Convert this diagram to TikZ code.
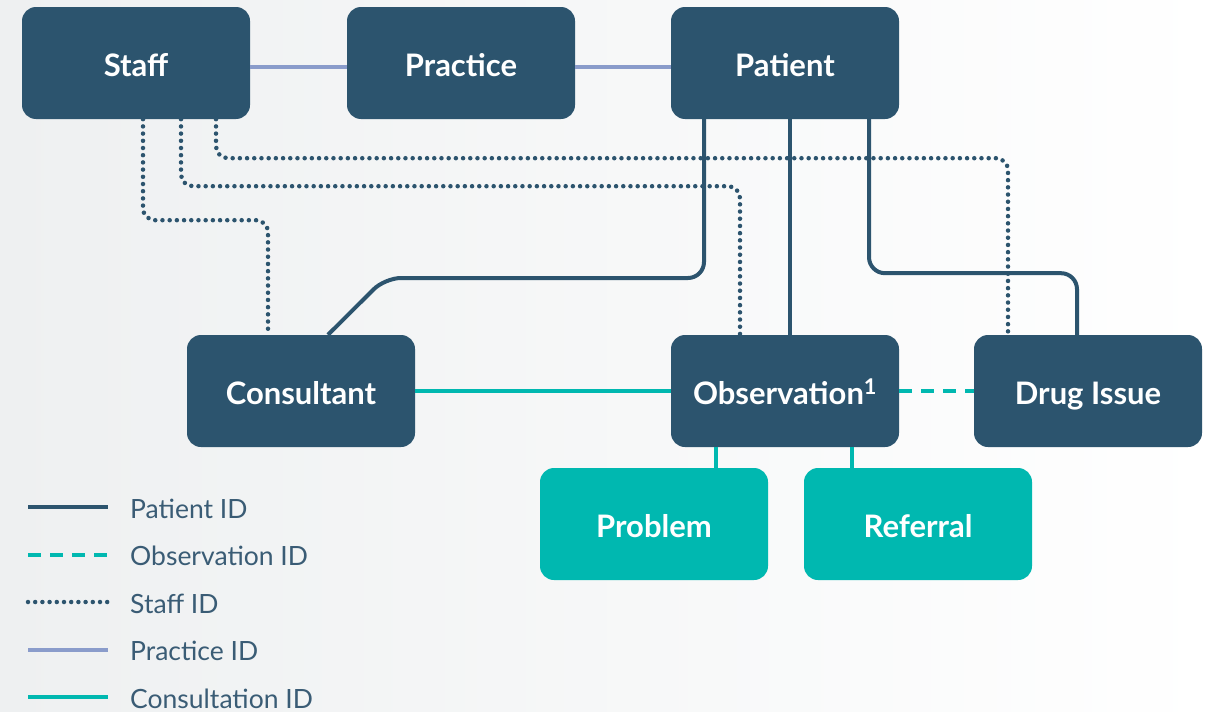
\documentclass[tikz,border=0pt]{standalone}
\usepackage{fontspec}
\setmainfont{Lato}
\usepackage{tikz}
\usetikzlibrary{calc}
\definecolor{navy}{HTML}{2C546E}
\definecolor{teal}{HTML}{00B8B0}
\definecolor{lavender}{HTML}{8A9CCB}
\definecolor{legendtxt}{HTML}{3A5C75}
\definecolor{bggray}{HTML}{EEF0F1}
\begin{document}
\begin{tikzpicture}[x=1pt,y=-1pt,
    box/.style={rectangle,rounded corners=14pt,fill=navy,text=white,minimum width=228pt,minimum height=112pt,inner sep=0pt,text height=26pt,text depth=0pt,font=\bfseries\fontsize{31}{34}\selectfont},
    subbox/.style={box,fill=teal},
    patientid/.style={draw=navy,line width=4pt,rounded corners=16pt},
    obsid/.style={draw=teal,line width=4pt,dash pattern=on 13pt off 9pt},
    staffid/.style={draw=navy,line width=4.5pt,line cap=round,dash pattern=on 0pt off 7.2pt,rounded corners=12pt},
    practiceid/.style={draw=lavender,line width=4pt},
    consultid/.style={draw=teal,line width=4pt},
    legendtext/.style={anchor=west,text=legendtxt,inner sep=0pt,font=\fontsize{26.5}{30}\selectfont}]
  \shade[left color=bggray,right color=white] (0,0) rectangle (1213,712);
  \useasboundingbox (0,0) rectangle (1213,712);
  % tables
  \node[box](staff)at(136,63){Staff};
  \node[box](practice)at(461,63){Practice};
  \node[box](patient)at(785,63){Patient};
  \node[box](consultant)at(301,391){Consultant};
  \node[box](observation)at(785,391){Observation\textsuperscript{1}};
  \node[box](drug)at(1088,391){Drug Issue};
  \node[subbox](problem)at(654,524){Problem};
  \node[subbox](referral)at(918,524){Referral};
  % keys
  \draw[practiceid] ([yshift=-4pt]staff.east)--([yshift=-4pt]practice.west);
  \draw[practiceid] ([yshift=-4pt]practice.east)--([yshift=-4pt]patient.west);
  \draw[staffid] ([xshift=7pt]staff.south)--++(0,101)-|([xshift=-33pt]consultant.north);
  \draw[staffid] ([xshift=45pt]staff.south)--++(0,67)-|([xshift=-45pt]observation.north);
  \draw[staffid] ([xshift=80pt]staff.south)--++(0,39)-|([xshift=-80pt]drug.north);
  \draw[patientid] ([xshift=-81pt]patient.south)|-(385,278)--([xshift=27pt]consultant.north);
  \draw[patientid] ([xshift=5pt]patient.south)--([xshift=5pt]observation.north);
  \draw[patientid] ([xshift=84pt]patient.south)--++(0,154)-|([xshift=-11pt]drug.north);
  \draw[consultid] (consultant.east)--(observation.west);
  \draw[obsid] (observation.east)--(drug.west);
  \draw[consultid] ([xshift=-69pt]observation.south)--([xshift=62pt]problem.north);
  \draw[consultid] ([xshift=67pt]observation.south)--([xshift=-66pt]referral.north);
  % legend
  \foreach \s/\t [count=\i] in {patientid/Patient ID,obsid/Observation ID,staffid/Staff ID,practiceid/Practice ID,consultid/Consultation ID}{
    \coordinate (key\i) at (28,459.5+47.5*\i);
    \draw[\s] (key\i)--++(80,0);
    \node[legendtext](label\i)at(130,461+47.5*\i){\t};
  }
\end{tikzpicture}
\end{document}
